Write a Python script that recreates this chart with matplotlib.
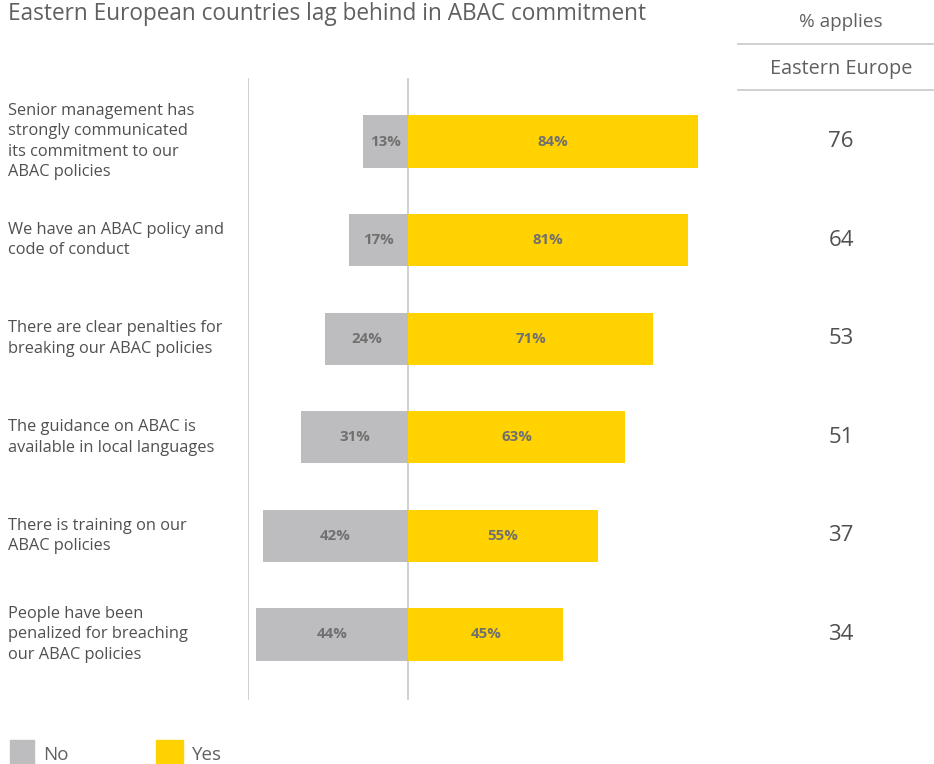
import matplotlib.pyplot as plt
from matplotlib.patches import Rectangle
from matplotlib.lines import Line2D

plt.rcParams['font.family'] = ['Open Sans', 'DejaVu Sans']

labels = [
    "Senior management has\nstrongly communicated\nits commitment to our\nABAC policies",
    "We have an ABAC policy and\ncode of conduct",
    "There are clear penalties for\nbreaking our ABAC policies",
    "The guidance on ABAC is\navailable in local languages",
    "There is training on our\nABAC policies",
    "People have been\npenalized for breaching\nour ABAC policies",
]
no_vals = [13, 17, 24, 31, 42, 44]
yes_vals = [84, 81, 71, 63, 55, 45]
applies = [76, 64, 53, 51, 37, 34]

YELLOW = '#FFD200'
GREY = '#BDBDBF'
TEXT = '#606060'
LINE = '#C8C8C8'

W, H = 934, 764
fig = plt.figure(figsize=(W / 100, H / 100), dpi=100)

def px(x, y):
    return x / W, 1 - y / H

# main axes: left edge at pixel 248, zero at 408, 3.45 px per %
ax = fig.add_axes([248 / W, 1 - 700 / H, 482 / W, 622 / H])
ax.set_xlim(-46.4, -46.4 + 482 / 3.45)
ax.set_ylim(5.665, -0.645)
ax.axis('off')

ypos = list(range(len(labels)))
ax.barh(ypos, [-v for v in no_vals], height=0.53, color=GREY, zorder=2)
ax.barh(ypos, yes_vals, height=0.53, color=YELLOW, zorder=2)
ax.axvline(0, color=LINE, lw=1.2, zorder=1)
ax.axvline(-46.4, color=LINE, lw=1.2, zorder=1)

for y, n, v in zip(ypos, no_vals, yes_vals):
    ax.text(-n / 2, y, f"{n}%", ha='center', va='center', fontsize=10.8,
            fontweight='bold', color='#707070', zorder=3)
    ax.text(v / 2, y, f"{v}%", ha='center', va='center', fontsize=10.8,
            fontweight='bold', color='#707070', zorder=3)

# category labels and right column, placed in figure coords via axes transform
for y, lab, a in zip(ypos, labels, applies):
    fy = ax.transData.transform((0, y))[1] / H
    fig.text(8 / W, fy, lab, ha='left', va='center', fontsize=11.8,
             color='#505050', linespacing=1.38)
    fig.text(841 / W, fy, str(a), ha='center', va='center', fontsize=16,
             color='#505050')

# title and header
fig.text(*px(8, 14), "Eastern European countries lag behind in ABAC commitment",
         ha='left', va='center', fontsize=16.3, color='#606060')
fig.text(*px(841, 22), "% applies", ha='center', va='center', fontsize=13.6,
         color=TEXT)
fig.text(*px(841, 69), "Eastern Europe", ha='center', va='center', fontsize=14.3,
         color=TEXT)
for yl in (44, 90):
    fig.add_artist(Line2D([738 / W, 1], [1 - yl / H] * 2, color=LINE, lw=1.2))

# legend
fig.add_artist(Rectangle(px(10, 764), 24 / W, 24 / H, color=GREY,
                         transform=fig.transFigure))
fig.text(*px(43, 755), "No", ha='left', va='center', fontsize=13.5, color=TEXT)
fig.add_artist(Rectangle(px(156, 764), 27 / W, 24 / H, color=YELLOW,
                         transform=fig.transFigure))
fig.text(*px(192, 755), "Yes", ha='left', va='center', fontsize=13.5, color=TEXT)

fig.savefig('out.png', dpi=100)
